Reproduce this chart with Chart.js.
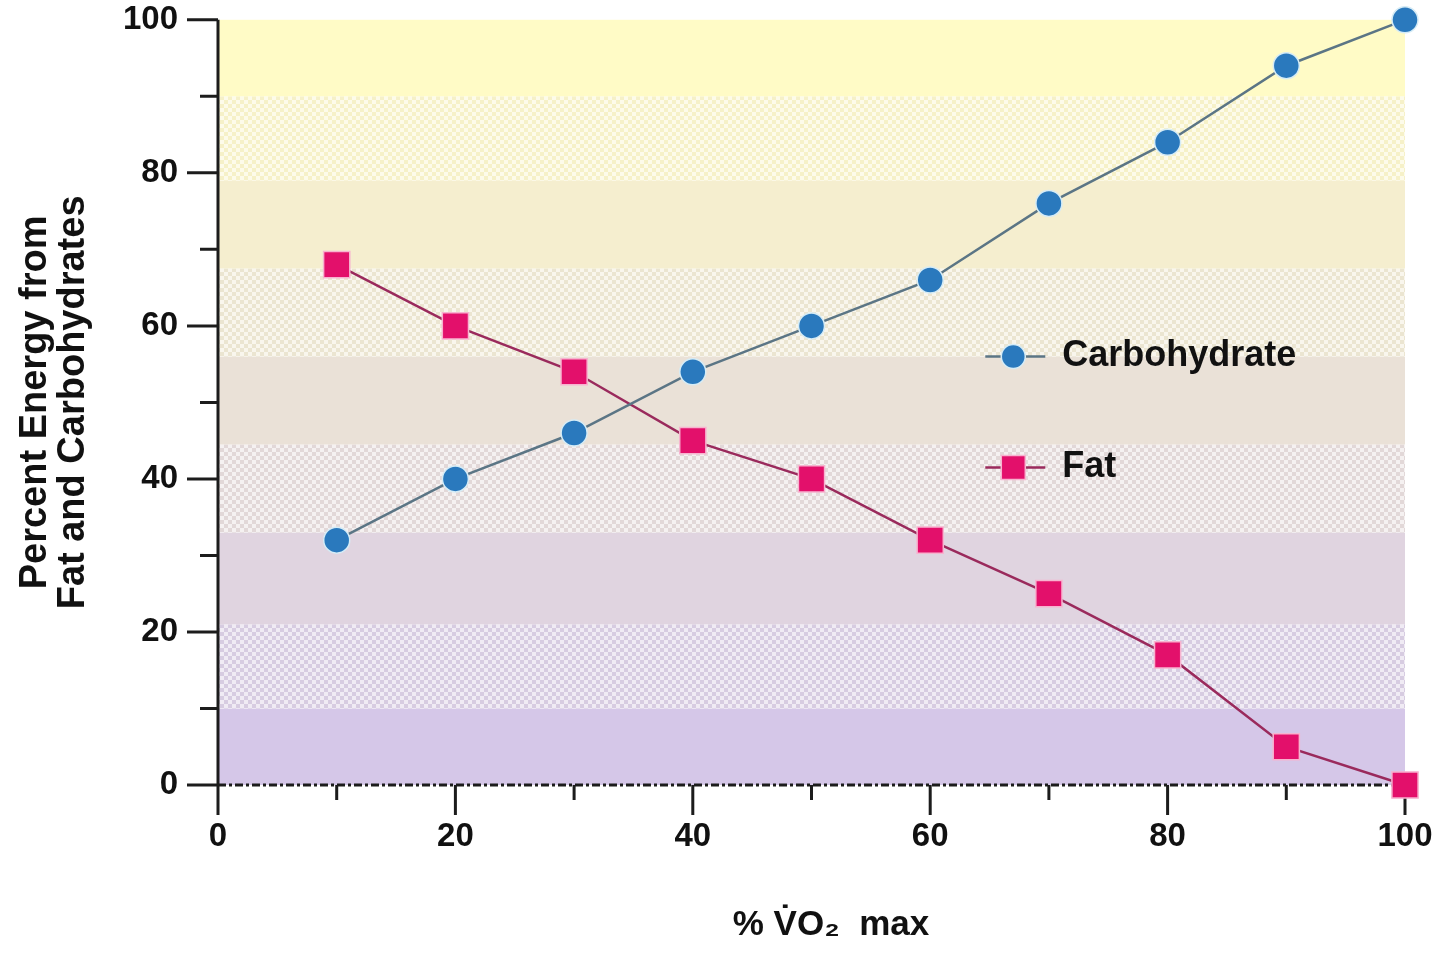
<!DOCTYPE html>
<html>
<head>
<meta charset="utf-8">
<script src="https://cdn.jsdelivr.net/npm/chart.js@4.4.1/dist/chart.umd.min.js"></script>
<style>
  html, body { margin: 0; padding: 0; background: #fff; }
</style>
</head>
<body>
<canvas id="energyChart" width="1440" height="959"></canvas>
<script>
// % VO2 max on the x axis
const vo2Percent = [10, 20, 30, 40, 50, 60, 70, 80, 90, 100];
// percent of energy from each fuel
const carbohydrate = [32, 40, 46, 54, 60, 66, 76, 84, 94, 100];
const fat = [68, 60, 54, 45, 40, 32, 25, 17, 5, 0];
// background colour bands (purple at the bottom to yellow at the top)
const bandBreaks = [0, 10, 21, 33, 44.5, 56, 67.5, 79, 90, 100];

const purple = [213, 199, 232];
const yellow = [255, 251, 198];
const FONT = "'Liberation Sans', Arial, Helvetica, sans-serif";

function mix(a, b, t) {
    return a.map((v, i) => Math.round(v + (b[i] - v) * t));
}

function hatchPattern(ctx, rgb) {
    const c = document.createElement("canvas");
    c.width = 8;
    c.height = 8;
    const g = c.getContext("2d");
    g.fillStyle = "rgb(" + mix(rgb, [150, 150, 150], 0.04) + ")";
    g.fillRect(0, 0, 8, 8);
    g.fillStyle = "rgb(" + mix(rgb, [255, 255, 255], 0.6) + ")";
    g.fillRect(0, 0, 4, 4);
    g.fillRect(4, 4, 4, 4);
    return ctx.createPattern(c, "repeat");
}

/**
 * Bands, dashed zero line, axis lines and tick marks (major / minor)
 */
const axesPlugin = {
    id: "axesPlugin",
    beforeDatasetsDraw(chart) {
        const { ctx, chartArea: a, scales: { x, y } } = chart;
        const n = bandBreaks.length - 1;

        ctx.save();
        for (let i = 0; i < n; i++) {
            const top = y.getPixelForValue(bandBreaks[i + 1]);
            const bottom = y.getPixelForValue(bandBreaks[i]);
            const rgb = mix(purple, yellow, i / (n - 1));
            ctx.fillStyle = i % 2 === 1 ? hatchPattern(ctx, rgb) : "rgb(" + rgb + ")";
            ctx.fillRect(a.left, top, a.right - a.left, bottom - top);
        }

        const y0 = y.getPixelForValue(0);
        ctx.strokeStyle = "#1c1c1c";
        ctx.lineWidth = 3;

        ctx.setLineDash([8, 3, 3, 3]);
        ctx.beginPath();
        ctx.moveTo(a.left, y0);
        ctx.lineTo(a.right, y0);
        ctx.stroke();
        ctx.setLineDash([]);

        ctx.beginPath();
        ctx.moveTo(a.left, a.top);
        ctx.lineTo(a.left, y0 + 30);
        y.ticks.forEach(t => {
            const py = y.getPixelForValue(t.value);
            const len = t.value % 20 === 0 ? 31 : 18;
            ctx.moveTo(a.left - len, py);
            ctx.lineTo(a.left, py);
        });
        x.ticks.forEach(t => {
            if (t.value === 0) return;
            const px = x.getPixelForValue(t.value);
            const len = t.value % 20 === 0 ? 30 : 15;
            ctx.moveTo(px, y0);
            ctx.lineTo(px, y0 + len);
        });
        ctx.stroke();
        ctx.restore();
    },
    afterDatasetsDraw(chart) {
        const { ctx, chartArea: a } = chart;
        const entries = [
            { label: "Carbohydrate", ds: chart.data.datasets[0], fx: 0.67, fy: 0.44 },
            { label: "Fat", ds: chart.data.datasets[1], fx: 0.67, fy: 0.585 }
        ];
        ctx.save();
        entries.forEach(e => {
            const px = a.left + e.fx * (a.right - a.left);
            const py = a.top + e.fy * (a.bottom - a.top);
            ctx.strokeStyle = e.ds.borderColor;
            ctx.lineWidth = 2.5;
            ctx.beginPath();
            ctx.moveTo(px - 28, py);
            ctx.lineTo(px + 32, py);
            ctx.stroke();

            ctx.fillStyle = e.ds.pointBackgroundColor;
            ctx.strokeStyle = e.ds.pointBorderColor;
            ctx.lineWidth = 1.5;
            ctx.beginPath();
            if (e.ds.pointStyle === "rect") {
                ctx.rect(px - 12, py - 12, 24, 24);
            } else {
                ctx.arc(px, py, 12, 0, Math.PI * 2);
            }
            ctx.fill();
            ctx.stroke();

            ctx.fillStyle = "#111";
            ctx.font = "bold 36px " + FONT;
            ctx.textBaseline = "middle";
            ctx.textAlign = "left";
            ctx.fillText(e.label, px + 49, py);
        });
        ctx.restore();
    }
};

const ctx = document.getElementById("energyChart").getContext("2d");

new Chart(ctx, {
    type: "line",
    data: {
        datasets: [
            {
                label: "Carbohydrate",
                data: vo2Percent.map((v, i) => ({ x: v, y: carbohydrate[i] })),
                borderColor: "#5b7585",
                borderWidth: 2.5,
                pointStyle: "circle",
                pointRadius: 13,
                pointBackgroundColor: "#2a79bd",
                pointBorderColor: "#d6ecf6",
                pointBorderWidth: 1.5,
                clip: false
            },
            {
                label: "Fat",
                data: vo2Percent.map((v, i) => ({ x: v, y: fat[i] })),
                borderColor: "#9a2a5c",
                borderWidth: 2.5,
                pointStyle: "rect",
                pointRadius: 18.5,
                pointBackgroundColor: "#e3106b",
                pointBorderColor: "#f7b3cf",
                pointBorderWidth: 1.5,
                clip: false
            }
        ]
    },
    options: {
        responsive: false,
        animation: false,
        layout: {
            autoPadding: false,
            padding: { left: 0, right: 35, top: 19, bottom: 0 }
        },
        plugins: {
            legend: { display: false },
            tooltip: { enabled: false }
        },
        scales: {
            x: {
                type: "linear",
                min: 0,
                max: 100,
                afterFit(scale) { scale.height = 174; },
                border: { display: false },
                // invisible Chart.js ticks only push the labels down; real ticks come from the plugin
                grid: { drawOnChartArea: false, drawTicks: true, tickLength: 32, tickColor: "rgba(0,0,0,0)" },
                ticks: {
                    stepSize: 10,
                    autoSkip: false,
                    maxRotation: 0,
                    padding: 0,
                    color: "#111",
                    font: { family: FONT, size: 33, weight: "bold" },
                    callback: v => (v % 20 === 0 ? v : "")
                },
                title: {
                    display: true,
                    text: "    % V\u0307O\u2082  max",
                    color: "#111",
                    padding: { top: 0, bottom: 13 },
                    font: { family: FONT, size: 35, weight: "bold" }
                }
            },
            y: {
                min: 0,
                max: 100,
                afterFit(scale) { scale.width = 218; },
                border: { display: false },
                grid: { drawOnChartArea: false, drawTicks: true, tickLength: 40, tickColor: "rgba(0,0,0,0)" },
                ticks: {
                    stepSize: 10,
                    autoSkip: false,
                    padding: 0,
                    color: "#111",
                    font: { family: FONT, size: 33, weight: "bold" },
                    callback: v => (v % 20 === 0 ? v : "")
                },
                title: {
                    display: true,
                    text: ["Percent Energy from", "Fat and Carbohydrates"],
                    color: "#111",
                    padding: { top: 17, bottom: 0 },
                    font: { family: FONT, size: 38, weight: "bold", lineHeight: 1.0 }
                }
            }
        }
    },
    plugins: [axesPlugin]
});
</script>
</body>
</html>
